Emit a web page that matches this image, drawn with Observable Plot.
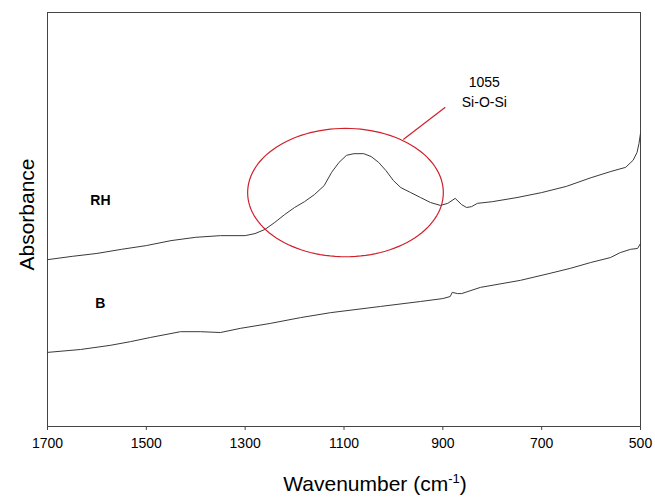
<!DOCTYPE html>
<html>
<head>
<meta charset="utf-8">
<script src="https://cdn.jsdelivr.net/npm/d3@7"></script>
<script src="https://cdn.jsdelivr.net/npm/@observablehq/plot@0.6"></script>
<style>
  html, body { margin: 0; padding: 0; background: #fff; }
  #chart svg { display: block; }
</style>
</head>
<body>
<div id="chart"></div>
<script>
// ---- data ----
const rhWavenumber = [1700,1650,1600,1550,1500,1450,1400,1350,1300,1280,1260,1240,1220,1200,1180,1160,1140,1125,1110,1095,1080,1060,1045,1030,1015,1000,985,965,945,925,905,890,875,862,852,842,830,800,750,700,650,600,560,530,515,507,503,500];
const rhAbsorbance = [0.403,0.411,0.418,0.428,0.437,0.449,0.457,0.461,0.461,0.466,0.476,0.493,0.512,0.529,0.543,0.560,0.582,0.614,0.638,0.655,0.659,0.659,0.652,0.638,0.618,0.594,0.577,0.565,0.553,0.541,0.534,0.539,0.551,0.536,0.529,0.531,0.539,0.543,0.553,0.565,0.580,0.601,0.616,0.626,0.643,0.662,0.684,0.708];

const bWavenumber = [1700,1633,1573,1532,1492,1431,1390,1350,1310,1249,1188,1127,1026,945,900,885,881,870,862,824,743,683,642,601,561,541,520,506,500];
const bAbsorbance = [0.179,0.186,0.196,0.205,0.215,0.229,0.229,0.227,0.237,0.249,0.263,0.275,0.290,0.302,0.309,0.314,0.324,0.321,0.321,0.336,0.353,0.370,0.382,0.396,0.408,0.420,0.428,0.430,0.442];

const xTicks = [1700,1500,1300,1100,900,700,500];

const seriesLabels = ["RH", "B"];
const seriesLabelX = [1593, 1593];
const seriesLabelY = [0.546, 0.297];

const peakLabel = ["1055\nSi-O-Si"];
const peakLabelX = [816];
const peakLabelY = [0.812];

const ellipseCenter = [1097, 0.565];
const ellipseRadius = [198, 0.155];
const leaderX = [980, 895];
const leaderY = [0.693, 0.771];

// ---- build tables ----
const rh = rhWavenumber.map((w, i) => ({w, a: rhAbsorbance[i]}));
const b = bWavenumber.map((w, i) => ({w, a: bAbsorbance[i]}));
const ellipse = d3.range(0, 361, 3).map(t => ({
  w: ellipseCenter[0] + ellipseRadius[0] * Math.cos(t * Math.PI / 180),
  a: ellipseCenter[1] + ellipseRadius[1] * Math.sin(t * Math.PI / 180)
}));
const labels = seriesLabels.map((t, i) => ({t, w: seriesLabelX[i], a: seriesLabelY[i]}));

const font = "'Liberation Sans', Arial, Helvetica, sans-serif";
const ink = "#444";

const chart = Plot.plot({
  width: 655,
  height: 503,
  marginLeft: 47,
  marginRight: 15,
  marginTop: 12,
  marginBottom: 77,
  style: {fontFamily: font, background: "#fff", color: "#000"},
  x: {domain: [1700, 500], ticks: xTicks, tickFormat: d => String(d)},
  y: {domain: [0, 1], axis: null},
  marks: [
    Plot.frame({stroke: ink, strokeWidth: 1}),
    Plot.axisX({ticks: xTicks, tickSize: 4, tickPadding: 8, fontSize: 14, label: null, stroke: ink, tickFormat: d => String(d)}),
    Plot.line(rh, {x: "w", y: "a", stroke: "#3a3a3a", strokeWidth: 1}),
    Plot.line(b, {x: "w", y: "a", stroke: "#3a3a3a", strokeWidth: 1}),
    Plot.line(ellipse, {x: "w", y: "a", stroke: "#d0202a", strokeWidth: 1.2, curve: "linear"}),
    Plot.link([0], {x1: () => leaderX[0], y1: () => leaderY[0], x2: () => leaderX[1], y2: () => leaderY[1], stroke: "#d0202a", strokeWidth: 1.2}),
    Plot.text(labels, {x: "w", y: "a", text: "t", fontWeight: "bold", fontSize: 14, fill: "#000"}),
    Plot.text(peakLabel, {x: () => peakLabelX[0], y: () => peakLabelY[0], text: d => d, fontSize: 14, lineHeight: 1.45, fill: "#000"}),
    Plot.text(["Wavenumber (cm-1)"], {frameAnchor: "bottom", dx: 31, dy: 64, text: d => d, fontSize: 21, fill: "#000", className: "xtitle"}),
    Plot.text(["Absorbance"], {frameAnchor: "left", dx: -20, dy: -5, rotate: -90, textAnchor: "middle", text: d => d, fontSize: 21, fill: "#000"})
  ]
});

document.getElementById("chart").appendChild(chart);

// superscript for the unit
const t = chart.querySelector(".xtitle text");
if (t) {
  t.textContent = "";
  const ns = "http://www.w3.org/2000/svg";
  const a = document.createElementNS(ns, "tspan"); a.textContent = "Wavenumber (cm";
  const s = document.createElementNS(ns, "tspan"); s.textContent = "-1"; s.setAttribute("font-size", "13"); s.setAttribute("dy", "-8");
  const c = document.createElementNS(ns, "tspan"); c.textContent = ")"; c.setAttribute("dy", "8");
  t.appendChild(a); t.appendChild(s); t.appendChild(c);
}
</script>
</body>
</html>
